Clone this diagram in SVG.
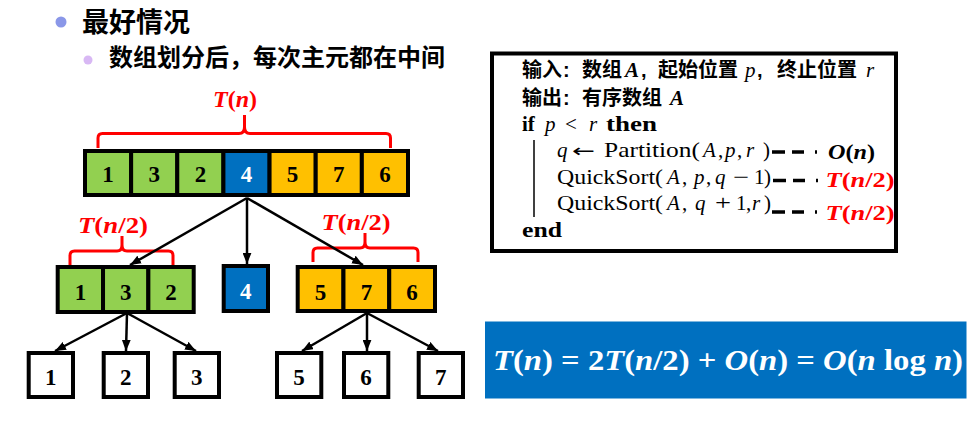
<svg xmlns="http://www.w3.org/2000/svg" width="969" height="421" viewBox="0 0 969 421">
<defs>
<marker id="ah" viewBox="0 0 10 8" refX="10" refY="4" markerWidth="11" markerHeight="9" markerUnits="userSpaceOnUse" orient="auto">
<path d="M0,0 L10,4 L0,8 z" fill="#000"/>
</marker>
</defs>
<style>
.cell{stroke:#000;stroke-width:4}
.g{fill:#92D050}.b{fill:#0070C0}.y{fill:#FFC000}.w{fill:#fff}
.d{font-family:"Liberation Serif",serif;font-weight:bold;font-size:23px;text-anchor:middle;fill:#000}
.dw{fill:#fff}
.br{fill:none;stroke:#FF0000;stroke-width:3}
.lab{font-family:"Liberation Serif",serif;font-weight:bold;font-size:24px;fill:#FF0000}
.it{font-style:italic}
.ar{stroke:#000;stroke-width:2.5;fill:none;marker-end:url(#ah)}
.cjk{font-family:"Noto Sans CJK SC",sans-serif;font-weight:bold;fill:#000}
.pn{font-family:"Liberation Sans",sans-serif;font-weight:bold;font-size:20px}
.pc{font-family:"Liberation Serif","Noto Sans CJK SC",serif;font-size:21px;fill:#000}
.dash{stroke:#000;stroke-width:3.5;stroke-dasharray:13 7 12 11 2 100}
</style>

<g id="title">
<circle cx="61" cy="22" r="5.5" fill="#8A97E8"/>
<text x="82" y="32" class="cjk" font-size="27">最好情况</text>
<circle cx="88" cy="60" r="4.5" fill="#D8B8F4"/>
<text x="109" y="66" class="cjk" font-size="24">数组划分后，每次主元都在中间</text>
</g>

<g id="top-array">
<rect class="cell g" x="85" y="151" width="46.14" height="44"/>
<rect class="cell g" x="131.14" y="151" width="46.14" height="44"/>
<rect class="cell g" x="177.28" y="151" width="46.14" height="44"/>
<rect class="cell b" x="223.42" y="151" width="46.14" height="44"/>
<rect class="cell y" x="269.56" y="151" width="46.14" height="44"/>
<rect class="cell y" x="315.7" y="151" width="46.14" height="44"/>
<rect class="cell y" x="361.84" y="151" width="46.16" height="44"/>
<text class="d" x="108" y="182">1</text>
<text class="d" x="154.2" y="182">3</text>
<text class="d" x="200.4" y="182">2</text>
<text class="d dw" x="246.5" y="182">4</text>
<text class="d" x="292.6" y="182">5</text>
<text class="d" x="338.8" y="182">7</text>
<text class="d" x="384.9" y="182">6</text>
</g>

<g id="brace-top">
<path class="br" d="M98,148 V138 Q98,133.5 102.5,133.5 H239 Q244.5,133.5 244.5,127 V115 M244.5,127 Q244.5,133.5 250,133.5 H386 Q390.5,133.5 390.5,138 V148"/>
<text class="lab" x="213" y="106.5"><tspan class="it">T</tspan>(<tspan class="it">n</tspan>)</text>
</g>

<g id="left-array">
<rect class="cell g" x="57.7" y="267" width="45.33" height="45"/>
<rect class="cell g" x="103.03" y="267" width="45.33" height="45"/>
<rect class="cell g" x="148.36" y="267" width="45.34" height="45"/>
<text class="d" x="80.4" y="300">1</text>
<text class="d" x="125.7" y="300">3</text>
<text class="d" x="171" y="300">2</text>
</g>

<g id="brace-left">
<path class="br" d="M70,265 V255.5 Q70,251 74.5,251 H117 Q122,251 122,245 V236 M122,245 Q122,251 127,251 H168.5 Q173,251 173,255.5 V265"/>
<text class="lab" x="78" y="232.5" textLength="70" lengthAdjust="spacingAndGlyphs"><tspan class="it">T</tspan>(<tspan class="it">n</tspan>/2)</text>
</g>

<g id="mid-box">
<rect class="cell b" x="223.7" y="266" width="44.3" height="45"/>
<text class="d dw" x="245.8" y="299">4</text>
</g>

<g id="right-array">
<rect class="cell y" x="297.7" y="267" width="45.77" height="44"/>
<rect class="cell y" x="343.47" y="267" width="45.77" height="44"/>
<rect class="cell y" x="389.24" y="267" width="45.76" height="44"/>
<text class="d" x="320.6" y="300">5</text>
<text class="d" x="366.4" y="300">7</text>
<text class="d" x="412.1" y="300">6</text>
</g>

<g id="brace-right">
<path class="br" d="M313,262 V252.5 Q313,248 317.5,248 H360 Q365,248 365,242 V233 M365,242 Q365,248 370,248 H413.5 Q418,248 418,252.5 V262"/>
<text class="lab" x="321.5" y="230" textLength="69" lengthAdjust="spacingAndGlyphs"><tspan class="it">T</tspan>(<tspan class="it">n</tspan>/2)</text>
</g>

<g id="leaf-1"><rect class="cell w" x="28.7" y="353" width="44.3" height="44"/><text class="d" x="50.8" y="385">1</text></g>
<g id="leaf-2"><rect class="cell w" x="103.7" y="353" width="44.3" height="44"/><text class="d" x="125.8" y="385">2</text></g>
<g id="leaf-3"><rect class="cell w" x="174.7" y="353" width="44.3" height="44"/><text class="d" x="196.8" y="385">3</text></g>
<g id="leaf-5"><rect class="cell w" x="277" y="353" width="44.3" height="44"/><text class="d" x="299.1" y="385">5</text></g>
<g id="leaf-6"><rect class="cell w" x="344" y="353" width="44.3" height="44"/><text class="d" x="366.1" y="385">6</text></g>
<g id="leaf-7"><rect class="cell w" x="418.7" y="353" width="44.3" height="44"/><text class="d" x="440.8" y="385">7</text></g>

<g id="connectors">
<line class="ar" x1="247" y1="198" x2="130" y2="265"/>
<line class="ar" x1="247" y1="198" x2="247" y2="264"/>
<line class="ar" x1="247" y1="198" x2="363" y2="265"/>
<line class="ar" x1="127" y1="313" x2="55" y2="351"/>
<line class="ar" x1="127" y1="313" x2="126" y2="351"/>
<line class="ar" x1="127" y1="313" x2="196" y2="351"/>
<line class="ar" x1="367" y1="313" x2="302" y2="351"/>
<line class="ar" x1="367" y1="313" x2="367" y2="351"/>
<line class="ar" x1="367" y1="313" x2="438" y2="351"/>
</g>

<g id="pseudocode">
<rect x="492" y="53.5" width="404" height="197.5" fill="#fff" stroke="#000" stroke-width="4"/>
<text class="pc" y="77"><tspan class="cjk" font-size="20" x="522">输入</tspan><tspan class="pn" x="563">:</tspan><tspan class="cjk" font-size="20" x="582">数组</tspan><tspan x="625" font-weight="bold" font-style="italic">A</tspan><tspan class="pn" x="641">,</tspan><tspan class="cjk" font-size="20" x="658">起始位置</tspan><tspan x="745" font-style="italic">p</tspan><tspan class="pn" x="757">,</tspan><tspan class="cjk" font-size="20" x="777">终止位置</tspan><tspan x="866" font-style="italic">r</tspan></text>
<text class="pc" y="105"><tspan class="cjk" font-size="20" x="522">输出</tspan><tspan class="pn" x="563">:</tspan><tspan class="cjk" font-size="20" x="582">有序数组</tspan><tspan x="670" font-weight="bold" font-style="italic">A</tspan></text>
<text class="pc" y="131"><tspan x="522" font-weight="bold">if</tspan><tspan x="545" font-style="italic">p</tspan><tspan x="565">&lt;</tspan><tspan x="589" font-style="italic">r</tspan><tspan x="606" font-weight="bold" textLength="51" lengthAdjust="spacingAndGlyphs">then</tspan></text>
<line x1="534" y1="140" x2="534" y2="217" stroke="#000" stroke-width="1.5"/>
<text class="pc" y="157"><tspan x="557" font-style="italic">q</tspan><tspan x="572" font-family="DejaVu Sans,sans-serif" font-size="18" textLength="23" lengthAdjust="spacingAndGlyphs">←</tspan><tspan x="604" textLength="96" lengthAdjust="spacingAndGlyphs">Partition(</tspan><tspan x="703" font-style="italic">A</tspan><tspan x="718">,</tspan><tspan x="725" font-style="italic">p</tspan><tspan x="737">,</tspan><tspan x="746" font-style="italic">r</tspan><tspan x="763">)</tspan></text>
<text class="pc" y="183.5"><tspan x="557" textLength="106" lengthAdjust="spacingAndGlyphs">QuickSort(</tspan><tspan x="667" font-style="italic">A</tspan><tspan x="682">,</tspan><tspan x="694" font-style="italic">p</tspan><tspan x="706">,</tspan><tspan x="715" font-style="italic">q</tspan><tspan x="733" textLength="16" lengthAdjust="spacingAndGlyphs">−</tspan><tspan x="754">1</tspan><tspan x="764">)</tspan></text>
<text class="pc" y="210"><tspan x="557" textLength="106" lengthAdjust="spacingAndGlyphs">QuickSort(</tspan><tspan x="667" font-style="italic">A</tspan><tspan x="682">,</tspan><tspan x="695" font-style="italic">q</tspan><tspan x="715" textLength="16" lengthAdjust="spacingAndGlyphs">+</tspan><tspan x="736">1</tspan><tspan x="746">,</tspan><tspan x="752" font-style="italic">r</tspan><tspan x="764">)</tspan></text>
<text class="pc" y="236.5" font-weight="bold" x="522" textLength="40" lengthAdjust="spacingAndGlyphs">end</text>
<line class="dash" x1="772" y1="152" x2="818" y2="152"/>
<line class="dash" x1="773" y1="180.5" x2="818" y2="180.5"/>
<line class="dash" x1="772" y1="212" x2="818" y2="212"/>
<text x="828" y="158.5" font-family="Liberation Serif,serif" font-weight="bold" font-size="22" fill="#000" textLength="47" lengthAdjust="spacingAndGlyphs"><tspan class="it">O</tspan>(<tspan class="it">n</tspan>)</text>
<text x="825.5" y="186.5" font-family="Liberation Serif,serif" font-weight="bold" font-size="22" fill="#FF0000" textLength="69" lengthAdjust="spacingAndGlyphs"><tspan class="it">T</tspan>(<tspan class="it">n</tspan>/2)</text>
<text x="825.5" y="219.5" font-family="Liberation Serif,serif" font-weight="bold" font-size="22" fill="#FF0000" textLength="69" lengthAdjust="spacingAndGlyphs"><tspan class="it">T</tspan>(<tspan class="it">n</tspan>/2)</text>
</g>

<g id="formula">
<rect x="485" y="321.5" width="481.5" height="77" fill="#0070C0"/>
<text x="493" y="370" font-family="Liberation Serif,serif" font-weight="bold" font-size="29" fill="#fff" textLength="470" lengthAdjust="spacingAndGlyphs"><tspan class="it">T</tspan>(<tspan class="it">n</tspan>) = 2<tspan class="it">T</tspan>(<tspan class="it">n</tspan>/2) + <tspan class="it">O</tspan>(<tspan class="it">n</tspan>) = <tspan class="it">O</tspan>(<tspan class="it">n</tspan> log <tspan class="it">n</tspan>)</text>
</g>
</svg>
